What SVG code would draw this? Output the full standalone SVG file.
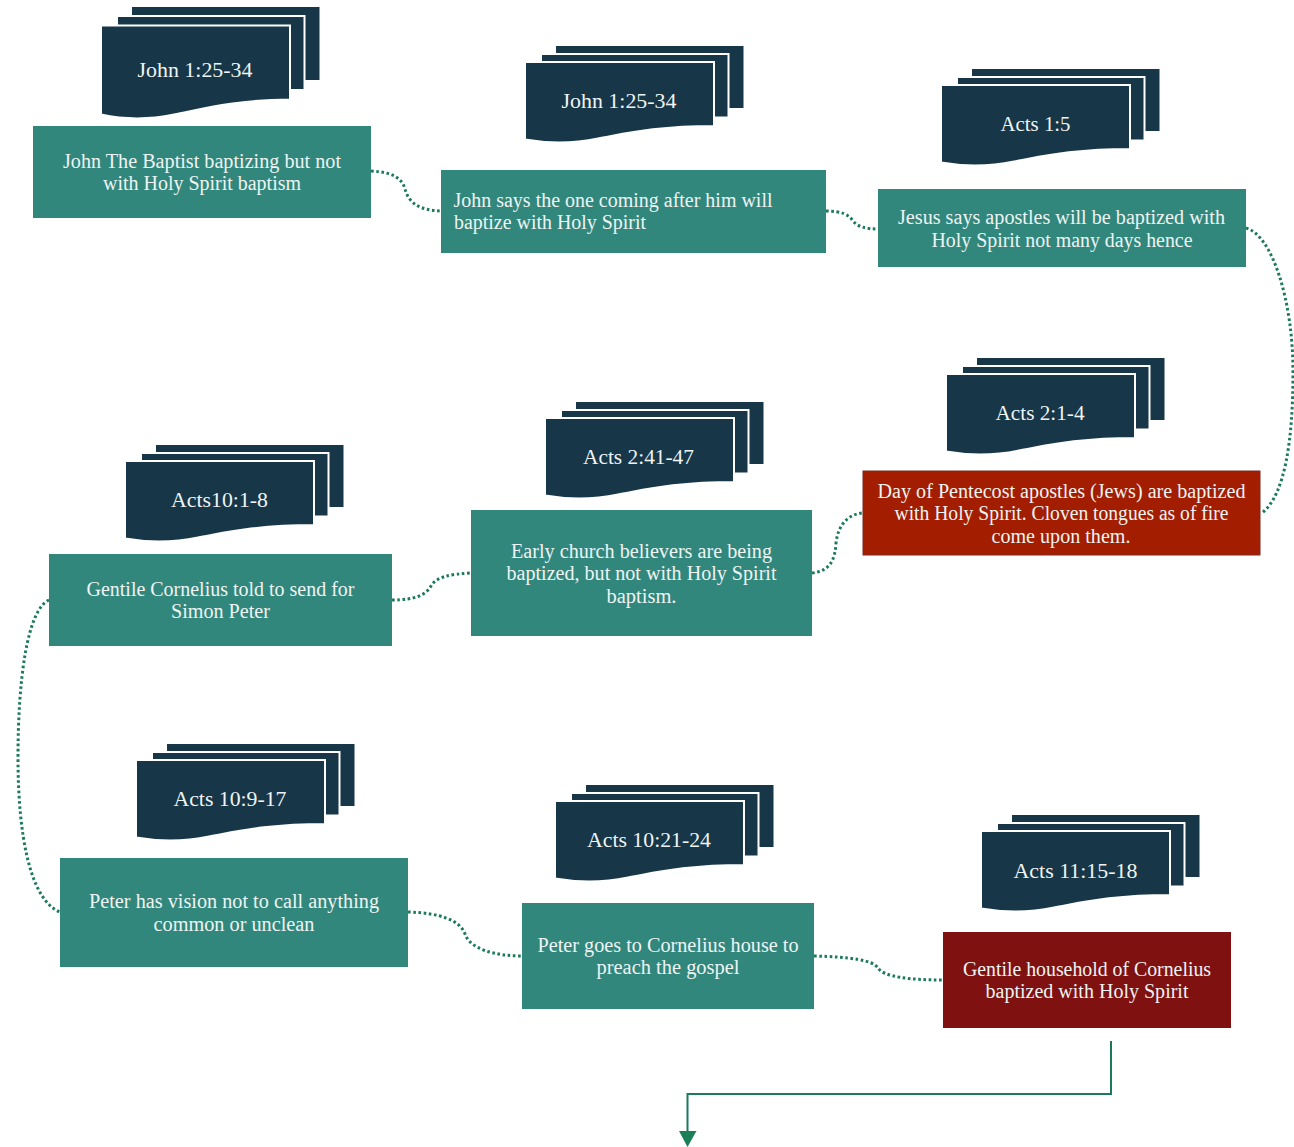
<svg xmlns="http://www.w3.org/2000/svg" width="1294" height="1147" viewBox="0 0 1294 1147">
<style>
text{font-family:"Liberation Serif","Times New Roman",serif;font-size:20px;fill:#eef4f3;text-anchor:middle}
.s{fill:#173648;stroke:#fff;stroke-width:2}
.b{fill:#173648}
.t{fill:#32877d}
.c{fill:none;stroke:#1b7a5c;stroke-width:3;stroke-dasharray:2.6 2.6}
</style>
<defs>
<g id="stackTall">
<rect class="b" x="0" y="0" width="187.500" height="73"/>
<rect class="s" x="-15" y="9" width="187.500" height="74"/>
<path class="s" d="M-31 18.500H158V92.500C100 93 70 102 42 107.500C18 112.500 -8 112.500 -31 107.500Z"/>
</g>
<g id="stackShort">
<rect class="b" x="0" y="0" width="187.500" height="62"/>
<rect class="s" x="-15" y="8" width="187.500" height="63.500"/>
<path class="s" d="M-31 16H158V80C100 80 70 87.500 42 92.500C18 97.500 -8 97.500 -31 93.500Z"/>
</g>
</defs>
<g id="connectors">
<path class="c" d="M371 171C392 172 402 178 405 189C409 204 420 210 441 211"/>
<path class="c" d="M826 211C842 211 849 215 853 221C858 227 866 229 878 229"/>
<path class="c" d="M1246 228C1272 235 1293 300 1293 372C1293 440 1285 495 1262 513"/>
<path class="c" d="M812 573C830 571 835 560 836 543C838 525 848 514 863 513"/>
<path class="c" d="M392 600C415 600 426 595 431 586C436 577 450 574 471 573"/>
<path class="c" d="M49 600C27 610 18 680 18 758C18 835 30 900 60 912"/>
<path class="c" d="M408 912C440 913 460 920 465 934C470 949 495 956 522 956"/>
<path class="c" d="M814 956C850 957 873 960 878 968C884 977 910 980 943 980"/>
<path d="M1111 1041V1094H687.500V1133" fill="none" stroke="#1b7a5c" stroke-width="2"/>
<path d="M679 1131H696.500L687.500 1147Z" fill="#1b8058"/>
</g>
<g id="stack1"><use href="#stackTall" x="132" y="7"/><text x="195" y="77" textLength="115" lengthAdjust="spacingAndGlyphs">John 1:25-34</text></g>
<g id="box1"><rect class="t" x="33" y="126" width="338" height="92"/><text x="202" y="168" textLength="278" lengthAdjust="spacingAndGlyphs">John The Baptist baptizing but not</text><text x="202" y="190" textLength="198" lengthAdjust="spacingAndGlyphs">with Holy Spirit baptism</text></g>
<g id="stack2"><use href="#stackShort" x="556" y="46"/><text x="619" y="108" textLength="115" lengthAdjust="spacingAndGlyphs">John 1:25-34</text></g>
<g id="box2"><rect class="t" x="441" y="170" width="385" height="83"/><text x="613" y="207" textLength="319" lengthAdjust="spacingAndGlyphs">John says the one coming after him will</text><text x="550" y="229" textLength="192" lengthAdjust="spacingAndGlyphs">baptize with Holy Spirit</text></g>
<g id="stack3"><use href="#stackShort" x="972" y="69"/><text x="1035.500" y="131" textLength="70" lengthAdjust="spacingAndGlyphs">Acts 1:5</text></g>
<g id="box3"><rect class="t" x="878" y="189" width="368" height="78"/><text x="1061.500" y="224" textLength="327" lengthAdjust="spacingAndGlyphs">Jesus says apostles will be baptized with</text><text x="1062" y="247" textLength="261" lengthAdjust="spacingAndGlyphs">Holy Spirit not many days hence</text></g>
<g id="stack4"><use href="#stackShort" x="977" y="358"/><text x="1040" y="420" textLength="89" lengthAdjust="spacingAndGlyphs">Acts 2:1-4</text></g>
<g id="box4"><rect x="863" y="471" width="397" height="84" fill="#a31d00" stroke="#7a2a20"/><text x="1061.500" y="498" textLength="368" lengthAdjust="spacingAndGlyphs">Day of Pentecost apostles (Jews) are baptized</text><text x="1061.500" y="520" textLength="334" lengthAdjust="spacingAndGlyphs">with Holy Spirit. Cloven tongues as of fire</text><text x="1061" y="543" textLength="139" lengthAdjust="spacingAndGlyphs">come upon them.</text></g>
<g id="stack5"><use href="#stackShort" x="576" y="402"/><text x="638.500" y="464" textLength="111" lengthAdjust="spacingAndGlyphs">Acts 2:41-47</text></g>
<g id="box5"><rect class="t" x="471" y="510" width="341" height="126"/><text x="641.500" y="558" textLength="261" lengthAdjust="spacingAndGlyphs">Early church believers are being</text><text x="641.500" y="580" textLength="270" lengthAdjust="spacingAndGlyphs">baptized, but not with Holy Spirit</text><text x="641.500" y="603" textLength="70" lengthAdjust="spacingAndGlyphs">baptism.</text></g>
<g id="stack6"><use href="#stackShort" x="156" y="445"/><text x="219.500" y="507" textLength="97" lengthAdjust="spacingAndGlyphs">Acts10:1-8</text></g>
<g id="box6"><rect class="t" x="49" y="554" width="343" height="92"/><text x="220.500" y="596" textLength="268" lengthAdjust="spacingAndGlyphs">Gentile Cornelius told to send for</text><text x="220.500" y="618" textLength="99" lengthAdjust="spacingAndGlyphs">Simon Peter</text></g>
<g id="stack7"><use href="#stackShort" x="167" y="744"/><text x="230" y="806" textLength="113" lengthAdjust="spacingAndGlyphs">Acts 10:9-17</text></g>
<g id="box7"><rect class="t" x="60" y="858" width="348" height="109"/><text x="234" y="908" textLength="290" lengthAdjust="spacingAndGlyphs">Peter has vision not to call anything</text><text x="234" y="931" textLength="161" lengthAdjust="spacingAndGlyphs">common or unclean</text></g>
<g id="stack8"><use href="#stackShort" x="586" y="785"/><text x="649" y="847" textLength="124" lengthAdjust="spacingAndGlyphs">Acts 10:21-24</text></g>
<g id="box8"><rect class="t" x="522" y="903" width="292" height="106"/><text x="668" y="952" textLength="261" lengthAdjust="spacingAndGlyphs">Peter goes to Cornelius house to</text><text x="668" y="974" textLength="143" lengthAdjust="spacingAndGlyphs">preach the gospel</text></g>
<g id="stack9"><use href="#stackShort" x="1012" y="815"/><text x="1075.500" y="878" textLength="124" lengthAdjust="spacingAndGlyphs">Acts 11:15-18</text></g>
<g id="box9"><rect x="943" y="932" width="288" height="96" fill="#7f1110"/><text x="1087" y="976" textLength="248" lengthAdjust="spacingAndGlyphs">Gentile household of Cornelius</text><text x="1087" y="998" textLength="203" lengthAdjust="spacingAndGlyphs">baptized with Holy Spirit</text></g>
</svg>
